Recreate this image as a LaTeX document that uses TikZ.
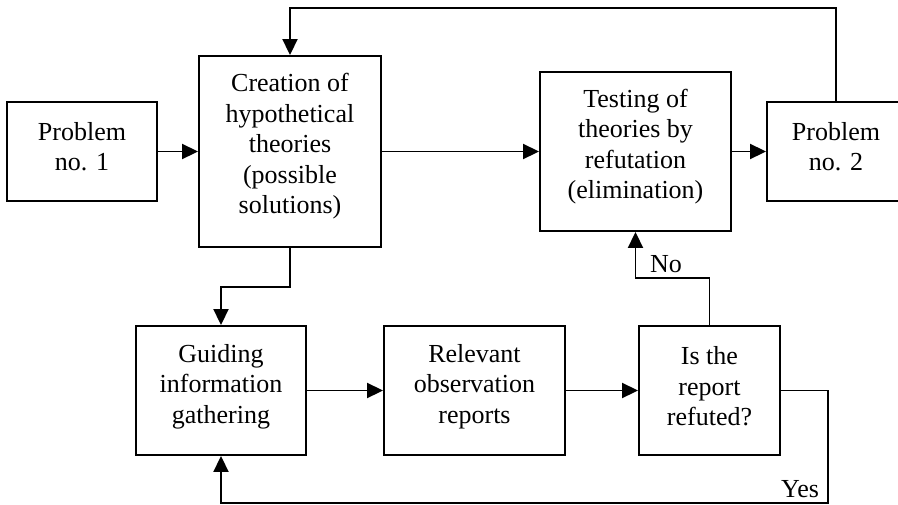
\documentclass[tikz,border=0pt]{standalone}
\usepackage{fontspec}
\setmainfont{Liberation Serif}
\usetikzlibrary{arrows.meta,calc}
\begin{document}
\begin{tikzpicture}[x=1pt,y=-1pt,
  box/.style={draw, line width=1.9pt, inner sep=0pt},
  txt/.style={align=center, font=\fontsize{26}{30.5}\selectfont, inner sep=0pt},
  lbl/.style={font=\fontsize{26}{30.5}\selectfont, inner sep=0pt},
  flow/.style={line width=1.9pt, -{Triangle[length=16pt,width=15pt]}}]
\useasboundingbox (0,0) rectangle (898,504);

% boxes
\node[box, minimum width=150pt, minimum height=99pt]  (p1)     at (82,151.5)    {};
\node[box, minimum width=182pt, minimum height=191pt] (create) at (290,151.5)   {};
\node[box, minimum width=191pt, minimum height=159pt] (test)   at (635.5,151.5) {};
\node[box, minimum width=138pt, minimum height=99pt]  (p2)     at (836,151.5)   {};
\node[box, minimum width=170pt, minimum height=129pt] (guide)  at (221,390.5)   {};
\node[box, minimum width=181pt, minimum height=129pt] (rel)    at (474.5,390.5) {};
\node[box, minimum width=141pt, minimum height=129pt] (is)     at (709.5,390.5) {};

% box texts
\node[txt] (p1t)     at ($(p1)+(0,-5)$)     {Problem\\no. 1};
\node[txt] (createt) at ($(create)+(0,-5)$) {Creation of\\hypothetical\\theories\\(possible\\solutions)};
\node[txt] (testt)   at ($(test)+(0,-5)$)   {Testing of\\theories by\\refutation\\(elimination)};
\node[txt] (p2t)     at ($(p2)+(0,-5)$)     {Problem\\no. 2};
\node[txt] (guidet)  at ($(guide)+(0,-4)$)  {Guiding\\information\\gathering};
\node[txt] (relt)    at ($(rel)+(0,-4)$)    {Relevant\\observation\\reports};
\node[txt] (ist)     at ($(is)+(0,-4)$)     {Is the\\report\\refuted?};

% routing levels
\coordinate (top) at (0,8);
\coordinate (bottom) at (0,503);
\coordinate (right) at (828,0);

% connectors
\draw[flow] (p1.east) -- (create.west);
\draw[flow] (create.east) -- (test.west);
\draw[flow] (test.east) -- (p2.west);
\draw[flow] (p2.north) -- (p2.north |- top) -| (create.north);
\draw[flow] (create.south) -- ++(0,39) -| (guide.north);
\draw[flow] (guide.east) -- (rel.west);
\draw[flow] (rel.east) -- (is.west);
\draw[flow] (is.north) -- ++(0,-47) -| (test.south);
\draw[flow] (is.east) -- (is.east -| right) -- (right |- bottom) -| (guide.south);

% branch labels
\node[lbl] (no)  at (666,264)   {No};
\node[lbl] (yes) at (800,489.5) {Yes};
\end{tikzpicture}
\end{document}
